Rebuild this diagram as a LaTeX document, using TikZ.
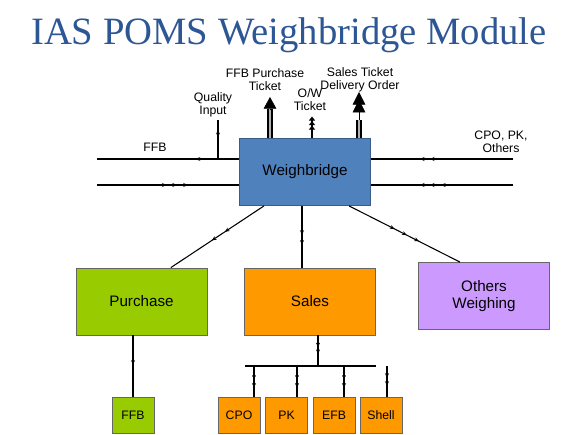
\documentclass[tikz,border=0pt]{standalone}
\usepackage{fontspec}
\setmainfont{Liberation Sans}
\newfontfamily\titlefont{Liberation Serif}
\usetikzlibrary{arrows.meta, decorations.markings}

\definecolor{wbblue}{RGB}{79,129,189}
\definecolor{wbedge}{RGB}{56,93,138}
\definecolor{titleblue}{RGB}{44,86,148}
\definecolor{purgreen}{RGB}{153,204,0}
\definecolor{salorange}{RGB}{255,153,0}
\definecolor{othlilac}{RGB}{204,153,255}

\begin{document}
\begin{tikzpicture}[
    x=0.75pt, y=-0.75pt, line width=0.8pt,
    box/.style={rectangle, draw=gray!80!black, line width=0.6pt, align=center,
      font=\fontsize{11.4}{12.75}\selectfont,
      minimum width=98.25pt, minimum height=50.25pt},
    prodbox/.style={rectangle, draw=gray!80!black, line width=0.6pt, fill=salorange,
      font=\fontsize{9.2}{10}\selectfont,
      minimum width=31.5pt, minimum height=27pt},
    lbl/.style={align=center, font=\fontsize{9.2}{9.75}\selectfont, inner sep=0pt},
    flow/.style={postaction={decorate, decoration={markings,
      mark=at position #1 with {\arrow{Stealth[length=3.5pt,width=3pt]}}}}},
    shaft/.style={line width=1.5pt, double=gray!60, double distance=1.5pt},
    bigt/.tip={Triangle[length=9.5pt,width=9.5pt,sep=-3.75pt]},
    smt/.tip={Triangle[length=3pt,width=4.5pt,sep=.4pt]}
  ]
  \useasboundingbox (0,0) rectangle (578,435);

  % title
  \node[anchor=base, font=\titlefont\fontsize{29}{34}\selectfont, text=titleblue]
    (title) at (289,45) {IAS POMS Weighbridge Module};

  % boxes
  \node[box, fill=wbblue, draw=wbedge] (wb) at (305,172) {Weighbridge};
  \node[box, fill=purgreen] (purchase) at (141.5,301.5) {Purchase};
  \node[box, fill=salorange] (sales) at (310,301.5) {Sales};
  \node[box, fill=othlilac] (others) at (484,296) {Others\\Weighing};
  \node[prodbox, fill=purgreen] (ffb) at (133,415) {FFB};
  \node[prodbox] (cpo) at (239,415) {CPO};
  \node[prodbox] (pk) at (286.5,415) {PK};
  \node[prodbox] (efb) at (334,415) {EFB};
  \node[prodbox] (shell) at (381,415) {Shell};

  % labels
  \node[lbl] (fpt) at (265,79.5) {FFB Purchase\\Ticket};
  \node[lbl] (owt) at (310,100) {O/W\\Ticket};
  \node[lbl] (std) at (360,79.5) {Sales Ticket\\Delivery Order};
  \node[lbl] (qin) at (213,105) {Quality\\Input};
  \node[lbl] (ffbin) at (155,147) {FFB};
  \node[lbl] (cpoin) at (501,142) {CPO, PK,\\Others};

  \coordinate (inA) at (97,159);
  \coordinate (inB) at (97,185);
  \coordinate (outA) at (513,159);
  \coordinate (outB) at (513,185);
  \coordinate (qtop) at (218,120);
  \coordinate (ptb) at (270,109);
  \coordinate (ptt) at (270,97);
  \coordinate (owt1) at (312,116);
  \coordinate (stb) at (359,120);
  \coordinate (stt) at (359,97);
  \coordinate (sx) at (302,0);
  \coordinate (bj) at (318,366);
  \coordinate (busL) at (245,366);
  \coordinate (busR) at (376,366);
  \coordinate (d1) at (254,366);
  \coordinate (d2) at (297,366);
  \coordinate (d3) at (344,366);
  \coordinate (sh) at (387,366);

  % inputs and outputs at the sides
  \draw[flow=.746] (inA) -- (inA -| wb.west);
  \draw[flow=.49, flow=.563, flow=.64] (inB) -- (inB -| wb.west);
  \draw[flow=.655, flow=.585] (outA) -- (outA -| wb.east);
  \draw[flow=.655, flow=.585, flow=.507] (outB) -- (outB -| wb.east);
  \draw[flow=.44] (qtop) -- (qtop |- inA);

  % tickets
  \draw[shaft] (ptb |- wb.north) -- (ptb);
  \draw[line width=0.4pt, -{Triangle[length=8.75pt,width=9.5pt]}] (ptb) -- (ptt);
  \draw[shaft] (stb |- wb.north) -- (stb);
  \draw[line width=0.4pt, -{bigt[]bigt[]}] (stb) -- (stt);
  \draw[-{smt[]smt[]smt[]}] (owt1 |- wb.north) -- (owt1);

  % to the modules
  \draw[flow=.42, flow=.56] ([xshift=-30.75pt]wb.south) -- ([xshift=22pt]purchase.north);
  \draw[flow=.47, flow=.63] (sx |- wb.south) -- (sx |- sales.north);
  \draw[flow=.41, flow=.52, flow=.63] ([xshift=33pt]wb.south) -- ([xshift=-18pt]others.north);

  % products
  \draw[flow=.48] (ffb.north |- purchase.south) -- (ffb.north);
  \draw[flow=.39, flow=.61] (bj |- sales.south) -- (bj);
  \draw[line width=1.2pt] (busL) -- (busR);
  \foreach \d/\b in {d1/cpo, d2/pk, d3/efb}
    \draw[flow=.45, flow=.71] (\d) -- (\d |- \b.north);
  \draw[flow=.39, flow=.65] (sh) -- (sh |- shell.north);
\end{tikzpicture}
\end{document}
